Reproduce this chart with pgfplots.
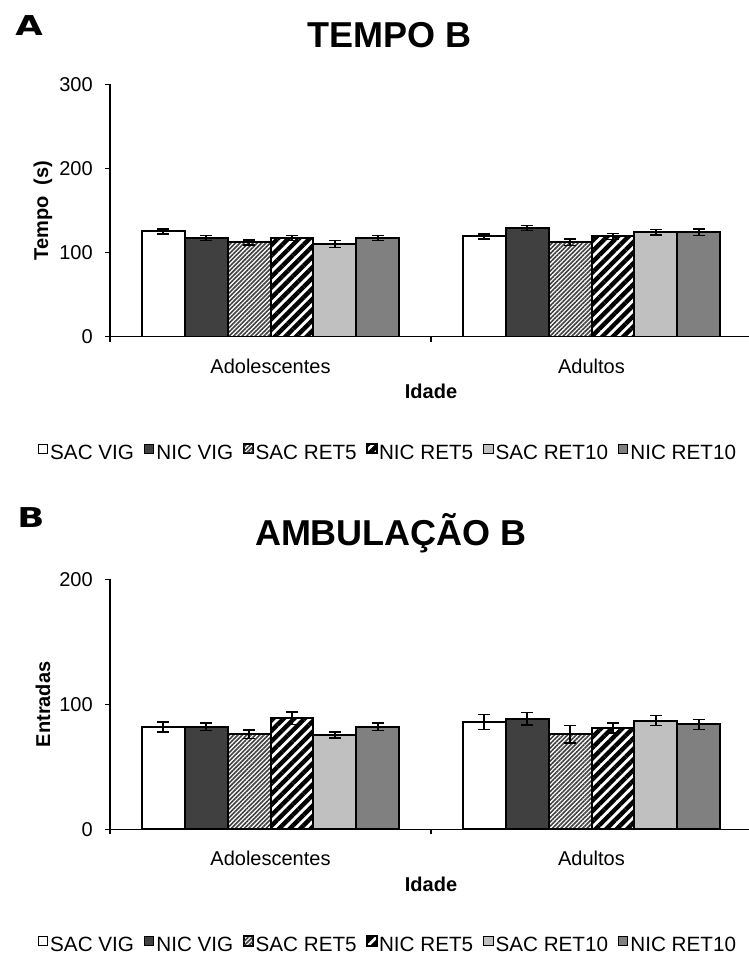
\documentclass[border=0pt]{standalone}
\usepackage{pgfplots}
\pgfplotsset{compat=1.18}
\usepackage{fontspec}
\setmainfont{Liberation Sans}
\newfontfamily\heavy{DejaVu Sans}
\usetikzlibrary{patterns.meta}
\definecolor{nicvig}{HTML}{404040}
\definecolor{sacret}{HTML}{C0C0C0}
\definecolor{nicret}{HTML}{808080}
\definecolor{hatch}{HTML}{404040}

\pgfplotsset{
  sq/.style={legend image code/.code={\draw[##1, line width=0.75pt] (0pt,-0.3pt) rectangle (7pt,6.7pt);}},
  panel/.style={
    scale only axis, width=481.5pt,
    ybar=0pt, bar width=32.2pt,
    xmin=-0.5, xmax=1.5, ymin=0,
    axis x line=bottom, axis y line=left,
    axis line style={-, line width=0.9pt, black},
    xtick={0,1}, xticklabels={Adolescentes,Adultos},
    x tick style={draw=none},
    extra x ticks={-0.5,0.5,1.5}, extra x tick labels={},
    extra x tick style={x tick style={draw=black, line width=0.9pt}},
    tick align=outside, major tick length=3.75pt,
    y tick style={line width=0.9pt, black},
    /pgf/number format/assume math mode=true,
    ticklabel style={font=\fontsize{15}{18}\selectfont},
    yticklabel style={anchor=east, inner sep=0pt, xshift=-9pt},
    xticklabel style={anchor=base, inner sep=0pt, yshift=-23.5pt},
    every axis x label/.style={at={(axis description cs:0.5,-0.2178)}, anchor=center, font=\fontsize{15}{18}\selectfont\bfseries},
    every axis y label/.style={at={(axis description cs:-0.1044,0.5)}, rotate=90, anchor=center, font=\fontsize{15}{18}\selectfont\bfseries},
    xlabel={Idade},
    every axis title/.style={anchor=base, font=\fontsize{27}{32}\selectfont\bfseries},
    legend columns=6,
    legend style={draw=none, fill=none, inner sep=0pt, outer sep=0pt, anchor=center,
      font=\fontsize{15.5}{18}\selectfont,
      /tikz/every even column/.append style={column sep=6pt},
      nodes={inner xsep=1.5pt}},
    legend cell align=left,
    error bars/y dir=both, error bars/y explicit,
    error bars/error bar style={line width=1.1pt, black},
    error bars/error mark options={line width=1.1pt, black, mark size=4.5pt, rotate=90},
  },
  b1/.style={sq, draw=black, line width=1.5pt, fill=white},
  b2/.style={sq, draw=black, line width=1.5pt, fill=nicvig},
  b3/.style={sq, draw=black, line width=1.5pt, preaction={fill=white}, pattern={Lines[angle=45, distance=2.3pt, line width=1.2pt]}, pattern color=hatch},
  b4/.style={sq, draw=black, line width=1.5pt, preaction={fill=white}, pattern={Lines[angle=45, distance=5.6pt, line width=3.3pt]}, pattern color=black},
  b5/.style={sq, draw=black, line width=1.5pt, fill=sacret},
  b6/.style={sq, draw=black, line width=1.5pt, fill=nicret},
}

\begin{document}
\begin{tikzpicture}
\path[use as bounding box] (0,0) rectangle (561.75pt,-720pt);

% Panel A
\begin{axis}[panel, at={(82.5pt,-252.5pt)}, anchor=south west,
  height=189.4pt, ymax=300, ytick={0,100,200,300},
  ylabel={Tempo\ \ (s)},
  title={TEMPO B}, title style={at={(axis description cs:0.4346,1.1434)}},
  legend style={at={(axis description cs:0.433,-0.4606)}}]
\addplot[b1] coordinates {(0,125) +- (0,3) (1,119) +- (0,3)};
\addplot[b2] coordinates {(0,117) +- (0,3) (1,129) +- (0,3)};
\addplot[b3] coordinates {(0,112) +- (0,3) (1,112) +- (0,4)};
\addplot[b4] coordinates {(0,117) +- (0,3) (1,119) +- (0,3.5)};
\addplot[b5] coordinates {(0,110) +- (0,4) (1,124) +- (0,3)};
\addplot[b6] coordinates {(0,117) +- (0,3) (1,124) +- (0,4)};
\legend{SAC VIG,NIC VIG,SAC RET5,NIC RET5,SAC RET10,NIC RET10}
\end{axis}

% Panel B
\begin{axis}[panel, at={(82.5pt,-622pt)}, anchor=south west,
  height=187.5pt, ymax=200, ytick={0,100,200},
  ylabel={Entradas},
  every axis x label/.append style={at={(axis description cs:0.5,-0.22)}},
  title={AMBULAÇÃO B}, title style={at={(axis description cs:0.4377,1.137)}},
  legend style={at={(axis description cs:0.433,-0.464)}}]
\addplot[b1] coordinates {(0,82) +- (0,4) (1,86) +- (0,6)};
\addplot[b2] coordinates {(0,82) +- (0,3) (1,88.5) +- (0,5)};
\addplot[b3] coordinates {(0,76) +- (0,3.5) (1,76) +- (0,7)};
\addplot[b4] coordinates {(0,89) +- (0,5) (1,81) +- (0,4)};
\addplot[b5] coordinates {(0,75.5) +- (0,2.5) (1,87) +- (0,4)};
\addplot[b6] coordinates {(0,82) +- (0,3) (1,84) +- (0,4)};
\legend{SAC VIG,NIC VIG,SAC RET5,NIC RET5,SAC RET10,NIC RET10}
\end{axis}

\node[anchor=base west, inner sep=0pt] at (11.25pt,-26.25pt) {\fontsize{20.5}{24}\selectfont\scalebox{1.3}[1]{\heavy\bfseries A}};
\node[anchor=base west, inner sep=0pt] at (12.75pt,-395.25pt) {\fontsize{20.5}{24}\selectfont\scalebox{1.3}[1]{\heavy\bfseries B}};
\end{tikzpicture}
\end{document}
